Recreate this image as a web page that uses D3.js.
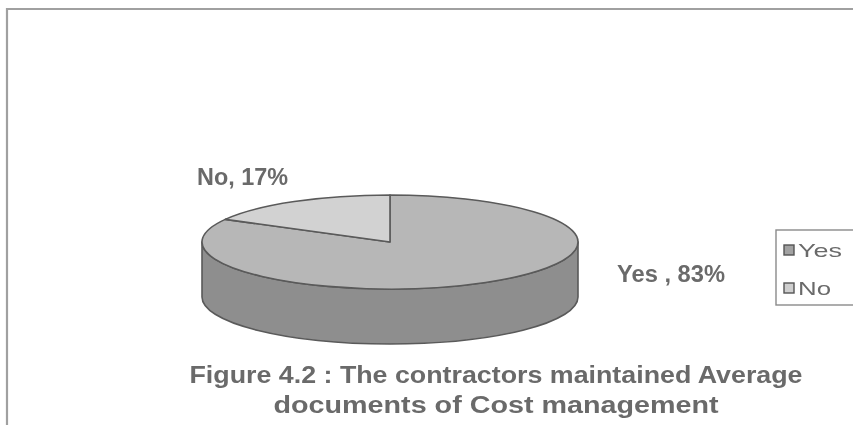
<!DOCTYPE html>
<html>
<head>
<meta charset="utf-8">
<script src="https://cdn.jsdelivr.net/npm/d3@7"></script>
<style>
  html, body { margin: 0; padding: 0; background: #fff; }
  svg { display: block; }
</style>
</head>
<body>
<svg id="chart" width="853" height="425"></svg>
<script>
// Survey answers
const categories = ["Yes", "No"];
const values = [83, 17];
const labels = ["Yes , 83%", "No, 17%"];
const titleLines = [
  "Figure 4.2 : The contractors maintained Average",
  "documents of Cost management"
];

const W = 853, H = 425;
const svg = d3.select("#chart");

const topColor = d3.scaleOrdinal().domain(categories).range(["#b7b7b7", "#d2d2d2"]);
const sideColor = d3.scaleOrdinal().domain(categories).range(["#8e8e8e", "#a9a9a9"]);
const outline = "#5a5a5a";
const textColor = "#6a6a6a";

const defs = svg.append("defs");
defs.append("filter").attr("id", "soft")
  .append("feGaussianBlur").attr("stdDeviation", 0.45);

const root = svg.append("g").attr("filter", "url(#soft)");

// chart frame
root.append("path")
  .attr("d", `M7,${H + 5} L7,9 L${W + 5},9`)
  .attr("fill", "none").attr("stroke", "#a0a0a0").attr("stroke-width", 2.2);

// 3D pie geometry
const cx = 390, cy = 242, rx = 188, ry = 47, depth = 55;
const pt = (a, dy = 0) => [cx + rx * Math.sin(a), cy - ry * Math.cos(a) + dy];

const pie = d3.pie().sort(null).value(d => d)(values);

// side wall: only the front half (angles pi/2 .. 3pi/2) is visible
const sideG = root.append("g");
pie.forEach((s, i) => {
  const a1 = Math.max(s.startAngle, Math.PI / 2);
  const a2 = Math.min(s.endAngle, 3 * Math.PI / 2);
  if (a2 <= a1) return;
  const p1 = pt(a1), p2 = pt(a2), q2 = pt(a2, depth), q1 = pt(a1, depth);
  const large = (a2 - a1) > Math.PI ? 1 : 0;
  const d = `M${p1} A${rx},${ry} 0 ${large} 1 ${p2} L${q2} A${rx},${ry} 0 ${large} 0 ${q1} Z`;
  sideG.append("path").attr("d", d)
    .attr("fill", sideColor(categories[i]))
    .attr("stroke", outline).attr("stroke-width", 1.6).attr("stroke-linejoin", "round");
});

// top faces
const topG = root.append("g");
pie.forEach((s, i) => {
  const p1 = pt(s.startAngle), p2 = pt(s.endAngle);
  const large = (s.endAngle - s.startAngle) > Math.PI ? 1 : 0;
  const d = `M${cx},${cy} L${p1} A${rx},${ry} 0 ${large} 1 ${p2} Z`;
  topG.append("path").attr("d", d)
    .attr("fill", topColor(categories[i]))
    .attr("stroke", outline).attr("stroke-width", 1.6).attr("stroke-linejoin", "round");
});

// data labels
const labelPos = [[617, 282, 108], [197, 185, 91]];
labels.forEach((t, i) => {
  root.append("text")
    .attr("x", labelPos[i][0]).attr("y", labelPos[i][1])
    .attr("font-family", "Liberation Sans Narrow, Arial Narrow, Liberation Sans, sans-serif")
    .attr("font-weight", "bold").attr("font-size", 23.5)
    .attr("fill", textColor)
    .attr("textLength", labelPos[i][2]).attr("lengthAdjust", "spacingAndGlyphs")
    .text(t);
});

// legend
const lg = root.append("g");
lg.append("rect").attr("x", 776).attr("y", 230).attr("width", 100).attr("height", 75)
  .attr("fill", "#fff").attr("stroke", "#8a8a8a").attr("stroke-width", 1.4);
const legendFill = ["#a2a2a2", "#cfcfcf"];
const legendW = [44, 33];
categories.forEach((c, i) => {
  const y = 245 + i * 38;
  lg.append("rect").attr("x", 784).attr("y", y).attr("width", 10).attr("height", 10)
    .attr("fill", legendFill[i]).attr("stroke", "#555").attr("stroke-width", 1.4);
  lg.append("text").attr("x", 798).attr("y", y + 12)
    .attr("font-family", "Liberation Sans, Arial, sans-serif")
    .attr("font-size", 19).attr("fill", textColor)
    .attr("textLength", legendW[i]).attr("lengthAdjust", "spacingAndGlyphs")
    .text(c);
});

// title
const titleY = [383, 413];
const titleW = [613, 445];
titleLines.forEach((t, i) => {
  root.append("text")
    .attr("x", 496).attr("y", titleY[i])
    .attr("text-anchor", "middle")
    .attr("font-family", "Liberation Sans Narrow, Arial Narrow, Liberation Sans, sans-serif")
    .attr("font-weight", "bold").attr("font-size", 23.5)
    .attr("fill", textColor)
    .attr("textLength", titleW[i]).attr("lengthAdjust", "spacingAndGlyphs")
    .text(t);
});
</script>
</body>
</html>
